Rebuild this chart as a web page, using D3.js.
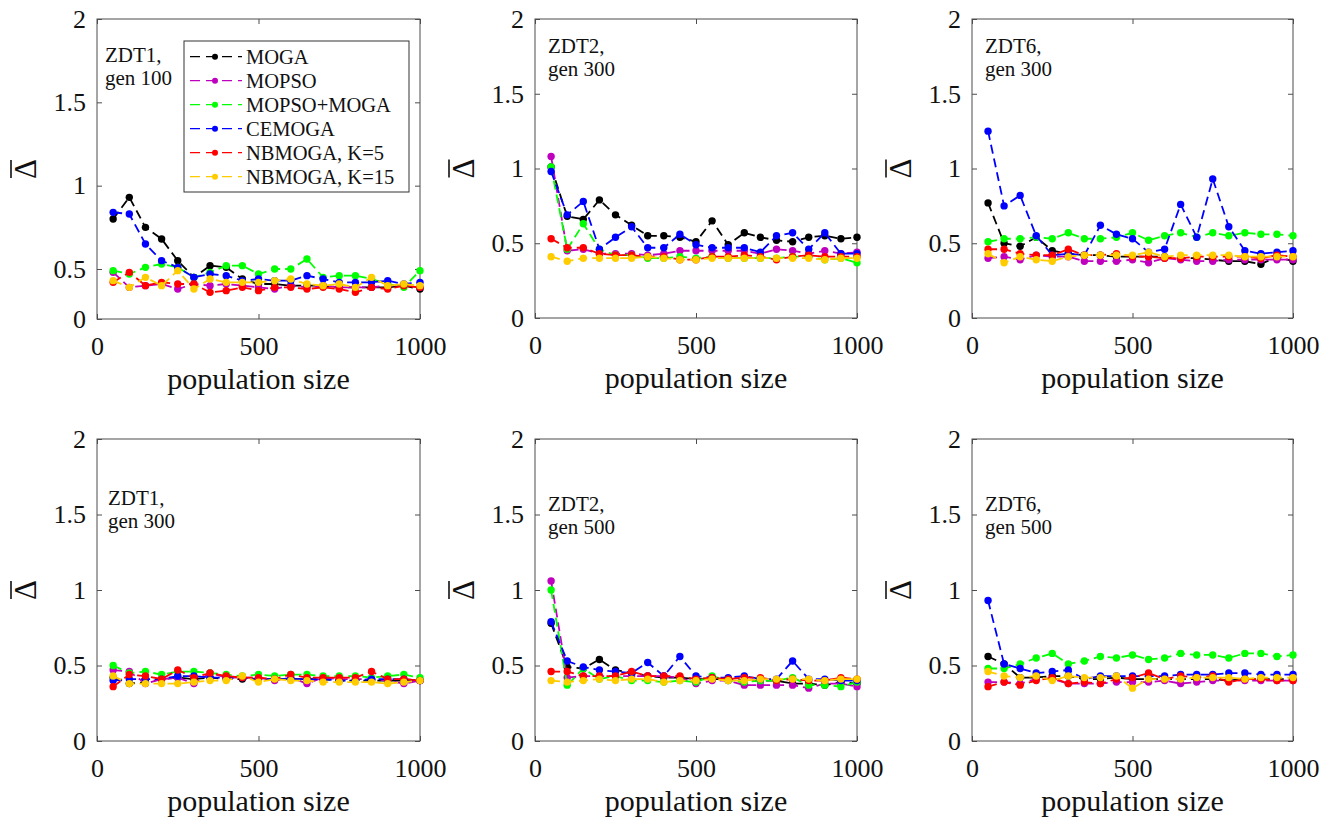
<!DOCTYPE html>
<html>
<head>
<meta charset="utf-8">
<script src="https://cdn.jsdelivr.net/npm/d3@7"></script>
<style>
  body { margin: 0; background: #fff; }
</style>
</head>
<body>
<script>
// population sizes on the x axis
const popSizes = [50, 100, 150, 200, 250, 300, 350, 400, 450, 500, 550, 600, 650, 700, 750, 800, 850, 900, 950, 1000];
const xTicks = [0, 500, 1000];

const methods = ["MOGA", "MOPSO", "MOPSO+MOGA", "CEMOGA", "NBMOGA, K=5", "NBMOGA, K=15"];
const methodColors = ["#000000", "#bf00bf", "#00ff00", "#0000ff", "#ff0000", "#ffcc00"];

// y ticks: the first panel's axis starts at 0.2 but its bottom tick is labelled "0"
const yTicksShort = [0.2, 0.5, 1, 1.5, 2];
const yTicks = [0, 0.5, 1, 1.5, 2];
const yTickLabels = ["0", "0.5", "1", "1.5", "2"];

// series order in every panel: MOGA, MOPSO, MOPSO+MOGA, CEMOGA, NBMOGA K=5, NBMOGA K=15
const zdt1Gen100 = [
  [0.80, 0.93, 0.75, 0.68, 0.55, 0.45, 0.52, 0.51, 0.44, 0.41, 0.41, 0.40, 0.40, 0.40, 0.39, 0.39, 0.39, 0.39, 0.40, 0.38],
  [0.48, 0.39, 0.40, 0.41, 0.38, 0.41, 0.40, 0.41, 0.40, 0.39, 0.38, 0.40, 0.39, 0.40, 0.39, 0.39, 0.39, 0.40, 0.40, 0.39],
  [0.49, 0.47, 0.51, 0.53, 0.51, 0.45, 0.48, 0.52, 0.52, 0.47, 0.50, 0.50, 0.56, 0.45, 0.46, 0.46, 0.44, 0.41, 0.39, 0.49],
  [0.84, 0.83, 0.65, 0.55, 0.51, 0.45, 0.47, 0.46, 0.43, 0.44, 0.43, 0.43, 0.46, 0.44, 0.42, 0.42, 0.42, 0.43, 0.41, 0.42],
  [0.42, 0.48, 0.40, 0.42, 0.41, 0.41, 0.36, 0.37, 0.39, 0.37, 0.39, 0.39, 0.38, 0.39, 0.38, 0.36, 0.39, 0.38, 0.40, 0.39],
  [0.43, 0.39, 0.45, 0.40, 0.49, 0.38, 0.44, 0.42, 0.42, 0.42, 0.43, 0.44, 0.41, 0.40, 0.41, 0.39, 0.45, 0.40, 0.41, 0.40]
];
const zdt2Gen300 = [
  [1.01, 0.68, 0.66, 0.79, 0.69, 0.62, 0.55, 0.55, 0.54, 0.51, 0.65, 0.49, 0.57, 0.54, 0.52, 0.51, 0.54, 0.55, 0.53, 0.54],
  [1.08, 0.45, 0.46, 0.43, 0.43, 0.43, 0.42, 0.43, 0.45, 0.45, 0.45, 0.45, 0.45, 0.43, 0.46, 0.45, 0.43, 0.45, 0.43, 0.44],
  [1.01, 0.46, 0.63, 0.46, 0.42, 0.42, 0.40, 0.40, 0.41, 0.40, 0.41, 0.40, 0.40, 0.40, 0.40, 0.41, 0.41, 0.39, 0.40, 0.37],
  [0.98, 0.69, 0.78, 0.46, 0.54, 0.61, 0.47, 0.47, 0.56, 0.49, 0.47, 0.47, 0.47, 0.44, 0.55, 0.57, 0.46, 0.57, 0.43, 0.43],
  [0.53, 0.47, 0.47, 0.43, 0.42, 0.42, 0.41, 0.41, 0.39, 0.39, 0.41, 0.41, 0.42, 0.41, 0.39, 0.41, 0.42, 0.41, 0.41, 0.41],
  [0.41, 0.38, 0.40, 0.40, 0.40, 0.40, 0.41, 0.40, 0.39, 0.39, 0.40, 0.40, 0.40, 0.40, 0.40, 0.40, 0.40, 0.39, 0.40, 0.40]
];
const zdt6Gen300 = [
  [0.77, 0.50, 0.48, 0.54, 0.45, 0.43, 0.42, 0.42, 0.41, 0.41, 0.41, 0.41, 0.40, 0.40, 0.39, 0.38, 0.38, 0.36, 0.41, 0.38],
  [0.40, 0.41, 0.39, 0.42, 0.41, 0.41, 0.38, 0.38, 0.38, 0.39, 0.37, 0.40, 0.39, 0.38, 0.38, 0.39, 0.39, 0.39, 0.39, 0.39],
  [0.51, 0.53, 0.53, 0.54, 0.53, 0.57, 0.53, 0.53, 0.54, 0.57, 0.52, 0.55, 0.57, 0.54, 0.57, 0.55, 0.57, 0.56, 0.56, 0.55],
  [1.25, 0.75, 0.82, 0.55, 0.42, 0.43, 0.42, 0.62, 0.56, 0.53, 0.44, 0.46, 0.76, 0.54, 0.93, 0.61, 0.45, 0.43, 0.44, 0.45],
  [0.46, 0.46, 0.43, 0.42, 0.42, 0.46, 0.42, 0.42, 0.43, 0.41, 0.41, 0.40, 0.40, 0.41, 0.41, 0.41, 0.41, 0.40, 0.42, 0.41],
  [0.43, 0.37, 0.41, 0.39, 0.38, 0.41, 0.42, 0.42, 0.42, 0.42, 0.44, 0.41, 0.42, 0.42, 0.42, 0.42, 0.41, 0.41, 0.41, 0.41]
];
const zdt1Gen300 = [
  [0.42, 0.38, 0.39, 0.41, 0.42, 0.41, 0.42, 0.41, 0.41, 0.41, 0.41, 0.41, 0.41, 0.41, 0.40, 0.40, 0.40, 0.40, 0.40, 0.40],
  [0.47, 0.46, 0.38, 0.41, 0.42, 0.38, 0.45, 0.42, 0.42, 0.42, 0.40, 0.42, 0.38, 0.42, 0.41, 0.41, 0.41, 0.40, 0.38, 0.40],
  [0.50, 0.45, 0.46, 0.44, 0.46, 0.46, 0.45, 0.44, 0.43, 0.44, 0.43, 0.44, 0.44, 0.43, 0.43, 0.43, 0.42, 0.43, 0.44, 0.42],
  [0.40, 0.41, 0.41, 0.41, 0.43, 0.43, 0.42, 0.42, 0.42, 0.41, 0.41, 0.41, 0.41, 0.41, 0.40, 0.40, 0.41, 0.41, 0.41, 0.40],
  [0.36, 0.44, 0.43, 0.41, 0.47, 0.42, 0.45, 0.43, 0.42, 0.42, 0.41, 0.44, 0.42, 0.42, 0.42, 0.42, 0.46, 0.41, 0.41, 0.40],
  [0.43, 0.38, 0.38, 0.38, 0.38, 0.39, 0.40, 0.40, 0.43, 0.39, 0.41, 0.40, 0.40, 0.39, 0.39, 0.39, 0.39, 0.38, 0.39, 0.40]
];
const zdt2Gen500 = [
  [0.78, 0.49, 0.48, 0.54, 0.47, 0.45, 0.43, 0.42, 0.42, 0.41, 0.41, 0.41, 0.40, 0.40, 0.40, 0.38, 0.38, 0.37, 0.39, 0.38],
  [1.06, 0.42, 0.43, 0.43, 0.43, 0.43, 0.43, 0.43, 0.42, 0.38, 0.40, 0.40, 0.37, 0.37, 0.37, 0.37, 0.35, 0.38, 0.38, 0.36],
  [1.00, 0.37, 0.48, 0.41, 0.43, 0.40, 0.40, 0.39, 0.40, 0.39, 0.43, 0.40, 0.39, 0.40, 0.40, 0.42, 0.37, 0.37, 0.36, 0.39],
  [0.79, 0.53, 0.49, 0.47, 0.46, 0.45, 0.52, 0.43, 0.56, 0.43, 0.42, 0.42, 0.43, 0.41, 0.41, 0.53, 0.41, 0.41, 0.40, 0.40],
  [0.46, 0.46, 0.43, 0.43, 0.43, 0.46, 0.43, 0.43, 0.43, 0.41, 0.42, 0.41, 0.42, 0.42, 0.40, 0.41, 0.40, 0.40, 0.42, 0.41],
  [0.40, 0.39, 0.40, 0.41, 0.40, 0.41, 0.41, 0.39, 0.40, 0.40, 0.41, 0.40, 0.40, 0.41, 0.41, 0.41, 0.41, 0.40, 0.41, 0.41]
];
const zdt6Gen500 = [
  [0.56, 0.51, 0.42, 0.42, 0.43, 0.43, 0.41, 0.41, 0.42, 0.41, 0.41, 0.41, 0.41, 0.41, 0.41, 0.40, 0.41, 0.41, 0.41, 0.41],
  [0.39, 0.39, 0.38, 0.41, 0.41, 0.38, 0.38, 0.38, 0.39, 0.39, 0.39, 0.40, 0.38, 0.39, 0.40, 0.40, 0.40, 0.40, 0.40, 0.40],
  [0.48, 0.48, 0.51, 0.55, 0.58, 0.51, 0.53, 0.56, 0.55, 0.57, 0.54, 0.55, 0.58, 0.57, 0.57, 0.55, 0.58, 0.58, 0.56, 0.57],
  [0.93, 0.51, 0.48, 0.45, 0.46, 0.47, 0.41, 0.43, 0.43, 0.43, 0.43, 0.43, 0.44, 0.44, 0.44, 0.45, 0.45, 0.44, 0.44, 0.44],
  [0.36, 0.39, 0.37, 0.40, 0.42, 0.38, 0.39, 0.38, 0.41, 0.42, 0.45, 0.41, 0.43, 0.42, 0.43, 0.39, 0.41, 0.41, 0.40, 0.40],
  [0.46, 0.43, 0.42, 0.43, 0.40, 0.43, 0.42, 0.42, 0.43, 0.35, 0.41, 0.41, 0.41, 0.42, 0.42, 0.42, 0.41, 0.42, 0.42, 0.42]
];

const panelTitles = [["ZDT1,", "gen 100"], ["ZDT2,", "gen 300"], ["ZDT6,", "gen 300"],
                     ["ZDT1,", "gen 300"], ["ZDT2,", "gen 500"], ["ZDT6,", "gen 500"]];

// layout of the 2x3 grid
const panels = [
  { series: zdt1Gen100, yMin: 0.2, ticks: yTicksShort, left: 97,  top: 19,  w: 323, h: 300, tx: 8,  ty: 43, legend: true },
  { series: zdt2Gen300, yMin: 0,   ticks: yTicks,      left: 535, top: 19,  w: 322, h: 299, tx: 13, ty: 34 },
  { series: zdt6Gen300, yMin: 0,   ticks: yTicks,      left: 972, top: 19,  w: 321, h: 299, tx: 13, ty: 34 },
  { series: zdt1Gen300, yMin: 0,   ticks: yTicks,      left: 97,  top: 439, w: 323, h: 302, tx: 11, ty: 66 },
  { series: zdt2Gen500, yMin: 0,   ticks: yTicks,      left: 535, top: 439, w: 322, h: 302, tx: 13, ty: 72 },
  { series: zdt6Gen500, yMin: 0,   ticks: yTicks,      left: 972, top: 439, w: 321, h: 302, tx: 13, ty: 72 }
];

const serif = "Liberation Serif";
const axisColor = "#4d4d4d";
const svg = d3.select("body").append("svg")
  .attr("width", 1333)
  .attr("height", 821)
  .attr("font-family", serif);

panels.forEach((p, pi) => {
  const x = d3.scaleLinear().domain([0, 1000]).range([p.left, p.left + p.w]);
  const y = d3.scaleLinear().domain([p.yMin, 2]).range([p.top + p.h, p.top]);
  const g = svg.append("g");

  // box
  g.append("rect")
    .attr("x", p.left).attr("y", p.top)
    .attr("width", p.w).attr("height", p.h)
    .attr("fill", "#fff")
    .attr("stroke", axisColor)
    .attr("stroke-width", 1);

  const fmt = v => yTickLabels[p.ticks.indexOf(v)];

  // bottom axis with labels, inward ticks
  const xAxis = g.append("g")
    .attr("transform", `translate(0,${p.top + p.h})`)
    .call(d3.axisBottom(x).tickValues(xTicks).tickFormat(d3.format("d"))
      .tickSizeInner(-5).tickSizeOuter(0).tickPadding(18));
  // top ticks
  const xTop = g.append("g")
    .attr("transform", `translate(0,${p.top})`)
    .call(d3.axisTop(x).tickValues(xTicks).tickSizeInner(-5).tickSizeOuter(0).tickFormat(""));
  // left axis with labels
  const yAxis = g.append("g")
    .attr("transform", `translate(${p.left},0)`)
    .call(d3.axisLeft(y).tickValues(p.ticks).tickFormat(fmt).tickSizeInner(-5).tickSizeOuter(0).tickPadding(11));
  const yRight = g.append("g")
    .attr("transform", `translate(${p.left + p.w},0)`)
    .call(d3.axisRight(y).tickValues(p.ticks).tickSizeInner(-5).tickSizeOuter(0).tickFormat(""));

  [xAxis, xTop, yAxis, yRight].forEach(a => {
    a.attr("font-family", serif).attr("font-size", 26);
    a.select(".domain").remove();
    a.selectAll(".tick line").attr("stroke", axisColor);
    a.selectAll("text").attr("fill", "#111");
  });

  // axis titles
  g.append("text")
    .attr("x", p.left + p.w / 2)
    .attr("y", p.top + p.h + 70)
    .attr("text-anchor", "middle")
    .attr("font-family", serif)
    .attr("font-size", 30)
    .attr("fill", "#111")
    .text("population size");

  // y title: a delta with a bar, turned on its side
  const yl = g.append("g")
    .attr("transform", `translate(${p.left - 71},${p.top + p.h / 2}) rotate(-90)`);
  yl.append("text")
    .attr("x", 0).attr("y", 10)
    .attr("text-anchor", "middle")
    .attr("font-family", serif)
    .attr("font-size", 31)
    .attr("fill", "#111")
    .text("\u0394");
  yl.append("line")
    .attr("x1", -9).attr("x2", 9)
    .attr("y1", -15).attr("y2", -15)
    .attr("stroke", "#111")
    .attr("stroke-width", 1.6);

  // panel annotation
  const title = g.append("text")
    .attr("x", p.left + p.tx)
    .attr("y", p.top + p.ty)
    .attr("font-family", serif)
    .attr("font-size", 21)
    .attr("fill", "#111");
  panelTitles[pi].forEach((t, k) => {
    title.append("tspan")
      .attr("x", p.left + p.tx)
      .attr("dy", k === 0 ? 0 : 22.5)
      .text(t);
  });

  // series
  const line = d3.line()
    .x((d, i) => x(popSizes[i]))
    .y(d => y(d));

  p.series.forEach((vals, si) => {
    g.append("path")
      .datum(vals)
      .attr("d", line)
      .attr("fill", "none")
      .attr("stroke", methodColors[si])
      .attr("stroke-width", 1.8)
      .attr("stroke-dasharray", "9,5");

    g.selectAll(null)
      .data(vals)
      .enter().append("circle")
      .attr("cx", (d, i) => x(popSizes[i]))
      .attr("cy", d => y(d))
      .attr("r", 3.7)
      .attr("fill", methodColors[si]);
  });

  // legend, first panel only
  if (p.legend) {
    const lg = g.append("g").attr("transform", "translate(184,41)");
    lg.append("rect")
      .attr("width", 225).attr("height", 151)
      .attr("fill", "#fff")
      .attr("stroke", "#333")
      .attr("stroke-width", 1);
    methods.forEach((m, i) => {
      const ly = 15.7 + i * 24;
      lg.append("line")
        .attr("x1", 6).attr("x2", 58)
        .attr("y1", ly).attr("y2", ly)
        .attr("stroke", methodColors[i])
        .attr("stroke-width", 1.2)
        .attr("stroke-dasharray", "10,6");
      lg.append("circle")
        .attr("cx", 31).attr("cy", ly).attr("r", 3)
        .attr("fill", methodColors[i]);
      lg.append("text")
        .attr("x", 62).attr("y", ly)
        .attr("dy", "0.35em")
        .attr("font-family", serif)
        .attr("font-size", 20.5)
        .attr("fill", "#111")
        .text(m);
    });
  }
});
</script>
</body>
</html>
